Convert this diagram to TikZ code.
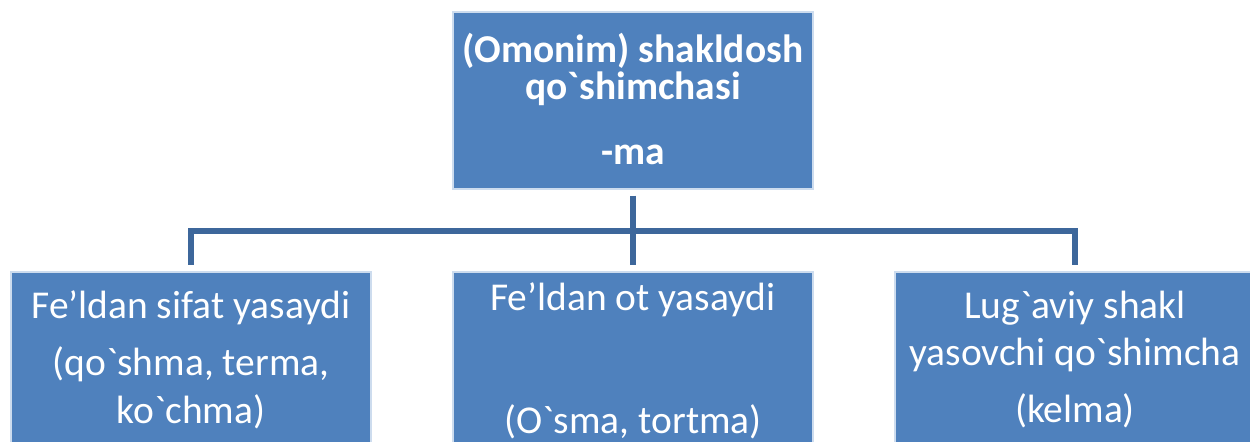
\documentclass[tikz,border=0pt]{standalone}
\usepackage{fontspec}
\setmainfont{Carlito}
\usetikzlibrary{positioning}

\definecolor{boxblue}{RGB}{79,129,189}
\definecolor{linkblue}{RGB}{61,103,155}
\newcommand{\gra}{\textasciigrave}

\begin{document}
\begin{tikzpicture}[x=0.75pt,y=0.75pt,yscale=-1,xscale=1,
  box/.style={draw={rgb, 255:red, 205; green, 220; blue, 238}, line width=0.8pt, fill=boxblue, inner sep=0pt, minimum width=270pt, minimum height=132.75pt},
  conn/.style={draw=linkblue, line width=3.9pt, shorten <=4.5pt, shorten >=4.5pt},
  txt/.style={text=white, anchor=base, inner sep=0pt, font=\fontsize{29.6}{36}\selectfont},
  txtb/.style={txt, font=\fontsize{29.6}{36}\selectfont\bfseries}]
\useasboundingbox (0,0) rectangle (1250,442);
\clip (0,0) rectangle (1250,442);

%Shape: Rectangle
\node [box] (top) at (633,100.5) {};
%Shape: Rectangle
\node [box] (left) at (191,360.5) {};
%Shape: Rectangle
\node [box] (mid) at (633,360.5) {};
%Shape: Rectangle
\node [box] (right) at (1075,360.5) {};

%Straight Lines
\coordinate (hub) at (633,231);
\draw [conn, shorten >=0pt] (top.south) -- (hub);
\draw [conn, shorten <=0pt] (hub) -| (left.north);
\draw [conn, shorten <=0pt] (hub) -| (right.north);
\draw [conn, shorten <=0pt] (hub) -- (mid.north);

% Text Node
\node [txtb] (top1) at (633,63) {(Omonim) shakldosh};
% Text Node
\node [txtb] (top2) at (633,100) {qo\gra shimchasi};
% Text Node
\node [txtb] (top3) at (633,165) {-ma};

% Text Node
\node [txt] (left1) at (191,318) {Fe’ldan sifat yasaydi};
% Text Node
\node [txt] (left2) at (191,375) {(qo\gra shma, terma,};
% Text Node
\node [txt] (left3) at (191,423) {ko\gra chma)};

% Text Node
\node [txt] (mid1) at (633,310) {Fe’ldan ot yasaydi};
% Text Node
\node [txt] (mid2) at (633,433) {(O\gra sma, tortma)};

% Text Node
\node [txt] (right1) at (1075,318) {Lug\gra aviy shakl};
% Text Node
\node [txt] (right2) at (1075,365) {yasovchi qo\gra shimcha};
% Text Node
\node [txt] (right3) at (1075,422) {(kelma)};

\end{tikzpicture}
\end{document}
